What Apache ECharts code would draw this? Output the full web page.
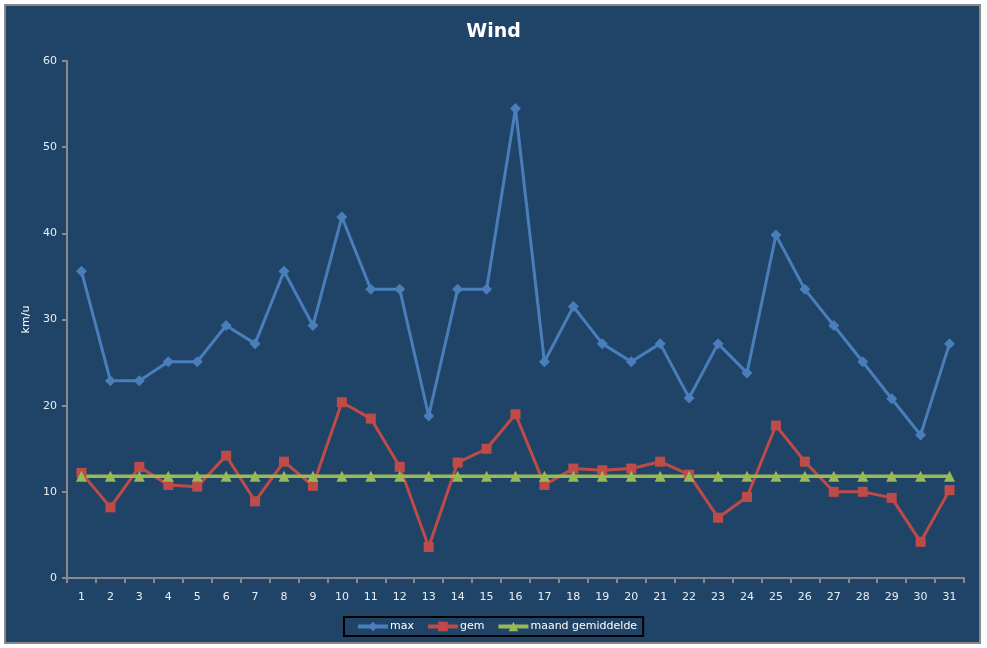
<!DOCTYPE html>
<html><head><meta charset="utf-8">
<script src="https://cdn.jsdelivr.net/npm/echarts@6/dist/echarts.min.js"></script>
<style>html,body{margin:0;padding:0;background:#fff}#c{width:987px;height:648px}</style>
</head><body><div id="c"></div>
<script>
const days = Array.from({length:31},(_,i)=>String(i+1));
const maxValues = [35.6,22.9,22.9,25.1,25.1,29.3,27.2,35.6,29.3,41.9,33.5,33.5,18.8,33.5,33.5,54.5,25.1,31.5,27.2,25.1,27.2,20.9,27.2,23.8,39.8,33.5,29.3,25.1,20.8,16.6,27.2];
const gemValues = [12.2,8.2,12.9,10.8,10.6,14.2,8.9,13.5,10.7,20.4,18.5,12.9,3.6,13.4,15.0,19.0,10.8,12.7,12.5,12.7,13.5,12.0,7.0,9.4,17.7,13.5,10.0,10.0,9.3,4.2,10.2];
const maandGem = [11.8,11.8,11.8,11.8,11.8,11.8,11.8,11.8,11.8,11.8,11.8,11.8,11.8,11.8,11.8,11.8,11.8,11.8,11.8,11.8,11.8,11.8,11.8,11.8,11.8,11.8,11.8,11.8,11.8,11.8,11.8];
const yTicks = {min:0,max:60,interval:10};

const chart = echarts.init(document.getElementById('c'));
const font = 'Tahoma, "DejaVu Sans", sans-serif';
chart.setOption({
  backgroundColor:'#ffffff',
  animation:false,
  graphic:[{type:'rect',z:-10,silent:true,shape:{x:5,y:5,width:975,height:638},style:{fill:'#1F4467',stroke:'#8a8a8a',lineWidth:2}}],
  title:{text:'Wind',left:'center',top:18,textStyle:{color:'#ffffff',fontSize:19,fontWeight:'bold',fontFamily:font}},
  legend:{
    bottom:12,left:344,
    itemWidth:30,itemHeight:12,itemGap:12,
    padding:[4,6,4,12],
    borderColor:'#000000',borderWidth:2,
    lineStyle:{width:4},
    textStyle:{color:'#ffffff',fontSize:11,fontFamily:font,padding:[0,0,0,-3]},
    data:['max','gem','maand gemiddelde']
  },
  grid:{left:67,right:23,top:61,bottom:70},
  xAxis:{
    type:'category',data:days,boundaryGap:true,
    axisLine:{lineStyle:{color:'#8a8a8a',width:2}},
    axisTick:{show:true,alignWithLabel:false,length:5,lineStyle:{color:'#8a8a8a',width:2}},
    axisLabel:{color:'#e8eef5',fontSize:11,fontFamily:font,margin:14},
    splitLine:{show:false}
  },
  yAxis:{
    type:'value',min:yTicks.min,max:yTicks.max,interval:yTicks.interval,
    name:'km/u',nameLocation:'middle',nameGap:32,nameRotate:90,
    nameTextStyle:{color:'#ffffff',fontSize:11,fontFamily:font},
    axisLine:{show:true,lineStyle:{color:'#8a8a8a',width:2}},
    axisTick:{show:true,length:5,lineStyle:{color:'#8a8a8a',width:2}},
    axisLabel:{color:'#e8eef5',fontSize:11,fontFamily:font,margin:10},
    splitLine:{show:false}
  },
  series:[
    {name:'max',type:'line',data:maxValues,symbol:'diamond',symbolSize:11,
      lineStyle:{color:'#4A7EBB',width:3},itemStyle:{color:'#4A7EBB'}},
    {name:'gem',type:'line',data:gemValues,symbol:'rect',symbolSize:10,
      lineStyle:{color:'#BE4B48',width:3},itemStyle:{color:'#BE4B48'}},
    {name:'maand gemiddelde',type:'line',data:maandGem,symbol:'triangle',symbolSize:11,
      lineStyle:{color:'#98B954',width:3.5},itemStyle:{color:'#98B954'}}
  ]
});
</script></body></html>
